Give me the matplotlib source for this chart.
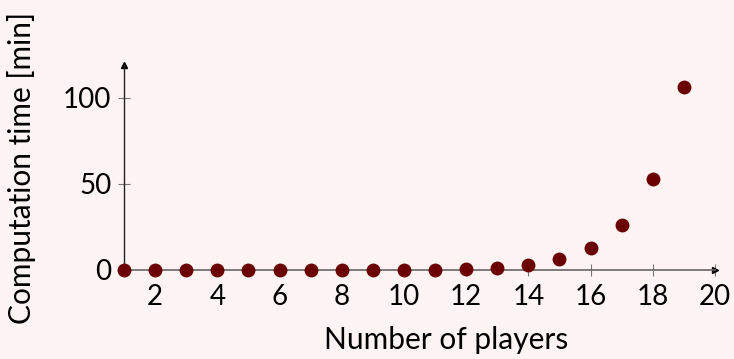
import matplotlib
matplotlib.use("Agg")
import matplotlib.pyplot as plt

players = [1, 2, 3, 4, 5, 6, 7, 8, 9, 10, 11, 12, 13, 14, 15, 16, 17, 18, 19]
minutes = [0.0, 0.0, 0.0, 0.0, 0.0, 0.01, 0.02, 0.03, 0.06, 0.1, 0.2, 0.4,
           1.2, 3.0, 6.3, 13.0, 26.0, 53.0, 106.0]
xticks = [2, 4, 6, 8, 10, 12, 14, 16, 18, 20]
yticks = [0, 50, 100]

bg = '#fef4f3'
dot = '#6b0000'

plt.rcParams['font.family'] = ['Lato', 'DejaVu Sans']

fig = plt.figure(figsize=(7.34, 3.59), dpi=100, facecolor=bg)
ax = fig.add_axes([124 / 734, 1 - 270 / 359, (715 - 124) / 734, (270 - 65) / 359])
ax.set_facecolor(bg)

ax.scatter(players, minutes, s=100, color=dot, zorder=3, clip_on=False, linewidths=0)

ax.set_xlim(1, 20)
ax.set_ylim(0, 119)
ax.set_xticks(xticks)
ax.set_yticks(yticks)
ax.tick_params(direction='inout', length=8, width=0.8, color='#777777',
               labelsize=20, pad=5)
ax.tick_params(axis='x', pad=6)

for side in ['top', 'right']:
    ax.spines[side].set_visible(False)
ax.spines['bottom'].set_color('#666666')
ax.spines['left'].set_color('#222222')
ax.spines['bottom'].set_linewidth(1.2)
ax.spines['left'].set_linewidth(1.0)

# arrow heads
ax.plot(1, 0, '>', color='black', markersize=5, transform=ax.transAxes, clip_on=False)
ax.plot(0, 1, '^', color='black', markersize=5, transform=ax.transAxes, clip_on=False)

ax.set_xlabel('Number of players', fontsize=21.5)
ax.xaxis.set_label_coords(0.545, -0.34)
ax.xaxis.label.set_va('center')
ax.set_ylabel('Computation time [min]', fontsize=21.5)
ax.yaxis.set_label_coords(-0.173, 0.5)
ax.yaxis.label.set_va('center')

fig.savefig('out.png', dpi=100, facecolor=bg)
